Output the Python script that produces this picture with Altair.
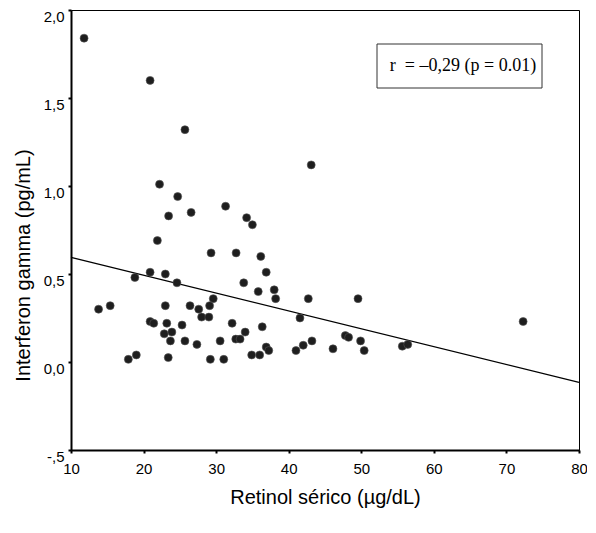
import altair as alt
import pandas as pd

# Scatter data
retinol = [11.8, 20.9, 25.7, 22.2, 24.7, 23.45, 26.55, 21.9, 20.9, 23.0,
           18.8, 24.6, 13.8, 15.4, 23.0, 26.4, 27.6, 20.9, 21.4, 23.2,
           25.3, 22.85, 23.9, 23.7, 25.7, 27.35, 17.9, 19.0, 23.4, 31.3,
           34.2, 35.0, 29.3, 32.75, 36.15, 36.9, 33.8, 35.8, 38.0, 38.2,
           42.7, 49.55, 29.6, 29.1, 28.0, 29.0, 41.55, 32.2, 36.35, 34.0,
           30.55, 32.7, 33.3, 36.9, 37.25, 29.2, 31.05, 34.9, 36.0, 41.0,
           42.0, 43.2, 46.1, 47.8, 48.25, 49.9, 50.4, 55.65, 56.4, 72.3,
           43.1]
ifn = [1.84, 1.60, 1.32, 1.01, 0.94, 0.83, 0.85, 0.69, 0.51, 0.50,
       0.48, 0.45, 0.30, 0.32, 0.32, 0.32, 0.30, 0.23, 0.22, 0.22,
       0.21, 0.16, 0.17, 0.12, 0.12, 0.10, 0.015, 0.04, 0.025, 0.885,
       0.82, 0.78, 0.62, 0.62, 0.60, 0.51, 0.45, 0.40, 0.41, 0.36,
       0.36, 0.36, 0.36, 0.32, 0.255, 0.255, 0.25, 0.22, 0.20, 0.17,
       0.12, 0.13, 0.13, 0.085, 0.065, 0.015, 0.015, 0.04, 0.04, 0.065,
       0.095, 0.12, 0.075, 0.15, 0.14, 0.12, 0.065, 0.09, 0.10, 0.23,
       1.12]

# Fitted line end points
fit_x = [10, 80]
fit_y = [0.594, -0.116]

x_ticks = [10, 20, 30, 40, 50, 60, 70, 80]
y_ticks = [-0.5, 0.0, 0.5, 1.0, 1.5, 2.0]
y_tick_labels = ["-,5", "0,0", "0,5", "1,0", "1,5", "2,0"]

x_title = "Retinol sérico (µg/dL)"
y_title = "Interferon gamma (pg/mL)"
annotation = "r\u00a0 = \u20130,29 (p = 0.01)"

pts = pd.DataFrame({"x": retinol, "y": ifn})
fit = pd.DataFrame({"x": fit_x, "y": fit_y})
ann = pd.DataFrame({"t": [annotation]})

label_expr = ""
for v, lab in zip(y_ticks, y_tick_labels):
    label_expr += f"datum.value == {v} ? '{lab}' : "
label_expr += "''"

SANS = "Liberation Sans, Arial, sans-serif"

xscale = alt.Scale(domain=[10, 80], nice=False, zero=False)
yscale = alt.Scale(domain=[-0.5, 2.0], nice=False, zero=False)

xaxis = alt.Axis(values=x_ticks, title=x_title, grid=False, format="d",
                 domainColor="black", domainWidth=2,
                 tickColor="black", tickSize=3, tickWidth=2,
                 labelFont=SANS, labelFontSize=15, labelColor="black",
                 labelPadding=8, labelFlush=False, labelOverlap=False,
                 titleFont=SANS, titleFontSize=20, titleFontWeight="normal",
                 titleColor="black", titleY=47, titleBaseline="middle")
yaxis = alt.Axis(values=y_ticks, title=y_title, grid=False,
                 labelExpr=label_expr,
                 domainColor="black", domainWidth=2,
                 tickColor="black", tickSize=3, tickWidth=2,
                 labelFont=SANS, labelFontSize=15, labelColor="black",
                 labelPadding=4, labelBaseline="top", labelOffset=-1,
                 labelOverlap=False,
                 titleFont=SANS, titleFontSize=20, titleFontWeight="normal",
                 titleColor="black", titleX=-48, titleY=255,
                 titleAlign="center", titleBaseline="middle")

line = alt.Chart(fit).mark_line(color="black", strokeWidth=1.2).encode(
    x=alt.X("x:Q", scale=xscale, axis=xaxis),
    y=alt.Y("y:Q", scale=yscale, axis=yaxis),
)

points = alt.Chart(pts).mark_circle(size=64, color="#1e1e1e", opacity=1,
                                    stroke="#555555", strokeWidth=0.6).encode(
    x=alt.X("x:Q", scale=xscale),
    y=alt.Y("y:Q", scale=yscale),
)

box = alt.Chart(ann).mark_rect(fill="white", stroke="#333333", strokeWidth=1).encode(
    x=alt.value(306), x2=alt.value(471), y=alt.value(34), y2=alt.value(78)
)

txt = alt.Chart(ann).mark_text(font="Liberation Serif, Times New Roman, serif",
                               fontSize=18, color="black", align="center",
                               baseline="middle").encode(
    x=alt.value(392), y=alt.value(56), text="t:N"
)

chart = alt.layer(line, points, box, txt).properties(
    width=508, height=440,
    autosize=alt.AutoSizeParams(type="none"),
    padding={"left": 63, "top": 2, "right": 8, "bottom": 70},
).configure_view(stroke="black", strokeWidth=1)

chart.save("out.html", embed_options={"renderer": "svg", "actions": False})
